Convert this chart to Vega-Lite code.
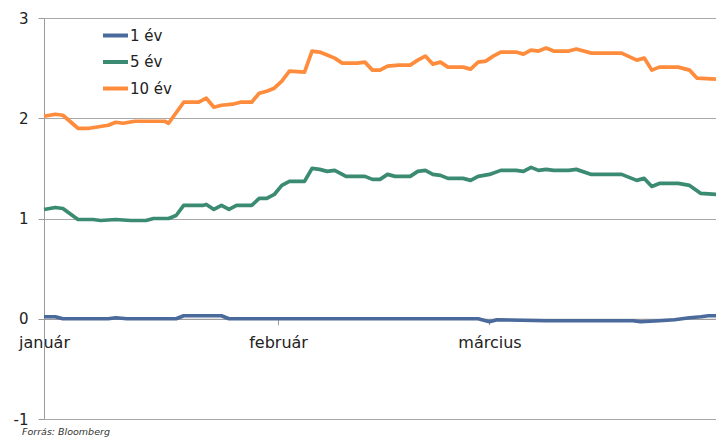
{
  "$schema": "https://vega.github.io/schema/vega-lite/v6.json",
  "width": 672,
  "height": 401,
  "autosize": {"type": "none"},
  "padding": {"left": 44, "top": 18, "right": 0, "bottom": 18},
  "background": "white",
  "config": {"view": {"stroke": null}, "font": "DejaVu Sans"},
  "title": {"text": "Forrás: Bloomberg", "orient": "bottom", "anchor": "start", "frame": "group", "fontSize": 9.5, "fontStyle": "italic", "fontWeight": "normal", "color": "#333333", "dx": -22, "offset": 0},
  "datasets": {
    "hozam": [
      {"date": "2021-01-01T00:00", "series": "10 év", "value": 2.02},
      {"date": "2021-01-02T12:00", "series": "10 év", "value": 2.04},
      {"date": "2021-01-03T12:00", "series": "10 év", "value": 2.03},
      {"date": "2021-01-05T12:00", "series": "10 év", "value": 1.90},
      {"date": "2021-01-07T00:00", "series": "10 év", "value": 1.90},
      {"date": "2021-01-09T12:00", "series": "10 év", "value": 1.93},
      {"date": "2021-01-10T12:00", "series": "10 év", "value": 1.96},
      {"date": "2021-01-11T12:00", "series": "10 év", "value": 1.95},
      {"date": "2021-01-13T00:00", "series": "10 év", "value": 1.97},
      {"date": "2021-01-16T00:00", "series": "10 év", "value": 1.97},
      {"date": "2021-01-17T00:00", "series": "10 év", "value": 1.97},
      {"date": "2021-01-17T12:00", "series": "10 év", "value": 1.95},
      {"date": "2021-01-19T12:00", "series": "10 év", "value": 2.16},
      {"date": "2021-01-21T12:00", "series": "10 év", "value": 2.16},
      {"date": "2021-01-22T12:00", "series": "10 év", "value": 2.20},
      {"date": "2021-01-23T12:00", "series": "10 év", "value": 2.11},
      {"date": "2021-01-24T12:00", "series": "10 év", "value": 2.13},
      {"date": "2021-01-26T00:00", "series": "10 év", "value": 2.14},
      {"date": "2021-01-27T00:00", "series": "10 év", "value": 2.16},
      {"date": "2021-01-28T12:00", "series": "10 év", "value": 2.16},
      {"date": "2021-01-29T12:00", "series": "10 év", "value": 2.25},
      {"date": "2021-01-30T12:00", "series": "10 év", "value": 2.27},
      {"date": "2021-01-31T12:00", "series": "10 év", "value": 2.30},
      {"date": "2021-02-01T12:00", "series": "10 év", "value": 2.37},
      {"date": "2021-02-02T12:00", "series": "10 év", "value": 2.47},
      {"date": "2021-02-04T12:00", "series": "10 év", "value": 2.46},
      {"date": "2021-02-05T12:00", "series": "10 év", "value": 2.67},
      {"date": "2021-02-06T12:00", "series": "10 év", "value": 2.66},
      {"date": "2021-02-07T12:00", "series": "10 év", "value": 2.63},
      {"date": "2021-02-08T12:00", "series": "10 év", "value": 2.60},
      {"date": "2021-02-09T12:00", "series": "10 év", "value": 2.55},
      {"date": "2021-02-11T12:00", "series": "10 év", "value": 2.55},
      {"date": "2021-02-12T12:00", "series": "10 év", "value": 2.56},
      {"date": "2021-02-13T12:00", "series": "10 év", "value": 2.48},
      {"date": "2021-02-14T12:00", "series": "10 év", "value": 2.48},
      {"date": "2021-02-15T12:00", "series": "10 év", "value": 2.52},
      {"date": "2021-02-17T00:00", "series": "10 év", "value": 2.53},
      {"date": "2021-02-18T12:00", "series": "10 év", "value": 2.53},
      {"date": "2021-02-19T12:00", "series": "10 év", "value": 2.58},
      {"date": "2021-02-20T12:00", "series": "10 év", "value": 2.62},
      {"date": "2021-02-21T12:00", "series": "10 év", "value": 2.54},
      {"date": "2021-02-22T12:00", "series": "10 év", "value": 2.56},
      {"date": "2021-02-23T12:00", "series": "10 év", "value": 2.51},
      {"date": "2021-02-25T12:00", "series": "10 év", "value": 2.51},
      {"date": "2021-02-26T12:00", "series": "10 év", "value": 2.49},
      {"date": "2021-02-27T12:00", "series": "10 év", "value": 2.56},
      {"date": "2021-02-28T12:00", "series": "10 év", "value": 2.57},
      {"date": "2021-03-01T12:00", "series": "10 év", "value": 2.62},
      {"date": "2021-03-02T12:00", "series": "10 év", "value": 2.66},
      {"date": "2021-03-04T12:00", "series": "10 év", "value": 2.66},
      {"date": "2021-03-05T12:00", "series": "10 év", "value": 2.64},
      {"date": "2021-03-06T12:00", "series": "10 év", "value": 2.68},
      {"date": "2021-03-07T12:00", "series": "10 év", "value": 2.67},
      {"date": "2021-03-08T12:00", "series": "10 év", "value": 2.70},
      {"date": "2021-03-09T12:00", "series": "10 év", "value": 2.67},
      {"date": "2021-03-11T12:00", "series": "10 év", "value": 2.67},
      {"date": "2021-03-12T12:00", "series": "10 év", "value": 2.69},
      {"date": "2021-03-14T12:00", "series": "10 év", "value": 2.65},
      {"date": "2021-03-18T12:00", "series": "10 év", "value": 2.65},
      {"date": "2021-03-20T12:00", "series": "10 év", "value": 2.58},
      {"date": "2021-03-21T12:00", "series": "10 év", "value": 2.60},
      {"date": "2021-03-22T12:00", "series": "10 év", "value": 2.48},
      {"date": "2021-03-23T12:00", "series": "10 év", "value": 2.51},
      {"date": "2021-03-26T00:00", "series": "10 év", "value": 2.51},
      {"date": "2021-03-27T12:00", "series": "10 év", "value": 2.48},
      {"date": "2021-03-28T12:00", "series": "10 év", "value": 2.40},
      {"date": "2021-03-31T00:00", "series": "10 év", "value": 2.39},

      {"date": "2021-01-01T00:00", "series": "5 év", "value": 1.09},
      {"date": "2021-01-02T12:00", "series": "5 év", "value": 1.11},
      {"date": "2021-01-03T12:00", "series": "5 év", "value": 1.10},
      {"date": "2021-01-05T12:00", "series": "5 év", "value": 0.99},
      {"date": "2021-01-07T12:00", "series": "5 év", "value": 0.99},
      {"date": "2021-01-08T12:00", "series": "5 év", "value": 0.98},
      {"date": "2021-01-10T12:00", "series": "5 év", "value": 0.99},
      {"date": "2021-01-12T12:00", "series": "5 év", "value": 0.98},
      {"date": "2021-01-14T12:00", "series": "5 év", "value": 0.98},
      {"date": "2021-01-15T12:00", "series": "5 év", "value": 1.00},
      {"date": "2021-01-17T12:00", "series": "5 év", "value": 1.00},
      {"date": "2021-01-18T12:00", "series": "5 év", "value": 1.03},
      {"date": "2021-01-19T12:00", "series": "5 év", "value": 1.13},
      {"date": "2021-01-22T00:00", "series": "5 év", "value": 1.13},
      {"date": "2021-01-22T12:00", "series": "5 év", "value": 1.14},
      {"date": "2021-01-23T12:00", "series": "5 év", "value": 1.09},
      {"date": "2021-01-24T12:00", "series": "5 év", "value": 1.13},
      {"date": "2021-01-25T12:00", "series": "5 év", "value": 1.09},
      {"date": "2021-01-26T12:00", "series": "5 év", "value": 1.13},
      {"date": "2021-01-28T12:00", "series": "5 év", "value": 1.13},
      {"date": "2021-01-29T12:00", "series": "5 év", "value": 1.20},
      {"date": "2021-01-30T12:00", "series": "5 év", "value": 1.20},
      {"date": "2021-01-31T12:00", "series": "5 év", "value": 1.24},
      {"date": "2021-02-01T12:00", "series": "5 év", "value": 1.33},
      {"date": "2021-02-02T12:00", "series": "5 év", "value": 1.37},
      {"date": "2021-02-04T12:00", "series": "5 év", "value": 1.37},
      {"date": "2021-02-05T12:00", "series": "5 év", "value": 1.50},
      {"date": "2021-02-06T12:00", "series": "5 év", "value": 1.49},
      {"date": "2021-02-07T12:00", "series": "5 év", "value": 1.47},
      {"date": "2021-02-08T12:00", "series": "5 év", "value": 1.48},
      {"date": "2021-02-10T00:00", "series": "5 év", "value": 1.42},
      {"date": "2021-02-12T12:00", "series": "5 év", "value": 1.42},
      {"date": "2021-02-13T12:00", "series": "5 év", "value": 1.39},
      {"date": "2021-02-14T12:00", "series": "5 év", "value": 1.39},
      {"date": "2021-02-15T12:00", "series": "5 év", "value": 1.44},
      {"date": "2021-02-16T12:00", "series": "5 év", "value": 1.42},
      {"date": "2021-02-18T12:00", "series": "5 év", "value": 1.42},
      {"date": "2021-02-19T12:00", "series": "5 év", "value": 1.47},
      {"date": "2021-02-20T12:00", "series": "5 év", "value": 1.48},
      {"date": "2021-02-21T12:00", "series": "5 év", "value": 1.44},
      {"date": "2021-02-22T12:00", "series": "5 év", "value": 1.43},
      {"date": "2021-02-23T12:00", "series": "5 év", "value": 1.40},
      {"date": "2021-02-25T12:00", "series": "5 év", "value": 1.40},
      {"date": "2021-02-26T12:00", "series": "5 év", "value": 1.38},
      {"date": "2021-02-27T12:00", "series": "5 év", "value": 1.42},
      {"date": "2021-03-01T00:00", "series": "5 év", "value": 1.44},
      {"date": "2021-03-02T12:00", "series": "5 év", "value": 1.48},
      {"date": "2021-03-04T12:00", "series": "5 év", "value": 1.48},
      {"date": "2021-03-05T12:00", "series": "5 év", "value": 1.47},
      {"date": "2021-03-06T12:00", "series": "5 év", "value": 1.51},
      {"date": "2021-03-07T12:00", "series": "5 év", "value": 1.48},
      {"date": "2021-03-08T12:00", "series": "5 év", "value": 1.49},
      {"date": "2021-03-09T12:00", "series": "5 év", "value": 1.48},
      {"date": "2021-03-11T12:00", "series": "5 év", "value": 1.48},
      {"date": "2021-03-12T12:00", "series": "5 év", "value": 1.49},
      {"date": "2021-03-14T12:00", "series": "5 év", "value": 1.44},
      {"date": "2021-03-18T12:00", "series": "5 év", "value": 1.44},
      {"date": "2021-03-20T12:00", "series": "5 év", "value": 1.38},
      {"date": "2021-03-21T12:00", "series": "5 év", "value": 1.40},
      {"date": "2021-03-22T12:00", "series": "5 év", "value": 1.32},
      {"date": "2021-03-23T12:00", "series": "5 év", "value": 1.35},
      {"date": "2021-03-26T00:00", "series": "5 év", "value": 1.35},
      {"date": "2021-03-27T12:00", "series": "5 év", "value": 1.33},
      {"date": "2021-03-29T00:00", "series": "5 év", "value": 1.25},
      {"date": "2021-03-31T00:00", "series": "5 év", "value": 1.24},

      {"date": "2021-01-01T00:00", "series": "1 év", "value": 0.02},
      {"date": "2021-01-02T12:00", "series": "1 év", "value": 0.02},
      {"date": "2021-01-03T12:00", "series": "1 év", "value": 0.00},
      {"date": "2021-01-09T12:00", "series": "1 év", "value": 0.00},
      {"date": "2021-01-10T12:00", "series": "1 év", "value": 0.01},
      {"date": "2021-01-12T00:00", "series": "1 év", "value": 0.00},
      {"date": "2021-01-18T12:00", "series": "1 év", "value": 0.00},
      {"date": "2021-01-19T12:00", "series": "1 év", "value": 0.03},
      {"date": "2021-01-24T12:00", "series": "1 év", "value": 0.03},
      {"date": "2021-01-25T12:00", "series": "1 év", "value": 0.00},
      {"date": "2021-02-27T12:00", "series": "1 év", "value": 0.00},
      {"date": "2021-03-01T00:00", "series": "1 év", "value": -0.03},
      {"date": "2021-03-02T00:00", "series": "1 év", "value": -0.01},
      {"date": "2021-03-08T12:00", "series": "1 év", "value": -0.02},
      {"date": "2021-03-20T00:00", "series": "1 év", "value": -0.02},
      {"date": "2021-03-21T00:00", "series": "1 év", "value": -0.03},
      {"date": "2021-03-23T12:00", "series": "1 év", "value": -0.02},
      {"date": "2021-03-25T12:00", "series": "1 év", "value": -0.01},
      {"date": "2021-03-27T12:00", "series": "1 év", "value": 0.01},
      {"date": "2021-03-29T00:00", "series": "1 év", "value": 0.02},
      {"date": "2021-03-30T00:00", "series": "1 év", "value": 0.03},
      {"date": "2021-03-31T00:00", "series": "1 év", "value": 0.03}
    ]
  },
  "data": {"name": "hozam"},
  "mark": {"type": "line", "strokeWidth": 3.7, "strokeJoin": "round", "clip": false},
  "encoding": {
    "x": {
      "field": "date",
      "type": "temporal",
      "scale": {"domain": [{"year": 2021, "month": 1, "date": 1}, {"year": 2021, "month": 3, "date": 31}]},
      "axis": {
        "title": null,
        "values": [{"year": 2021, "month": 1, "date": 1}, {"year": 2021, "month": 2, "date": 1}, {"year": 2021, "month": 3, "date": 1}],
        "labelExpr": "['január','február','március','április'][month(datum.value)]",
        "offset": -100.25,
        "grid": false,
        "domainColor": "#9a9a9a",
        "tickColor": "#9a9a9a",
        "tickSize": 6,
        "labelFontSize": 16,
        "labelColor": "#222222",
        "labelPadding": 10,
        "labelFlush": false
      }
    },
    "y": {
      "field": "value",
      "type": "quantitative",
      "scale": {"domain": [-1, 3], "nice": false, "zero": false},
      "axis": {
        "title": null,
        "values": [-1, 0, 1, 2, 3],
        "labelExpr": "'' + datum.value",
        "gridColor": "#a8a8a8",
        "gridWidth": 1,
        "domainColor": "#9a9a9a",
        "tickColor": "#9a9a9a",
        "tickSize": 6,
        "labelFontSize": 15,
        "labelColor": "#222222",
        "labelPadding": 10
      }
    },
    "color": {
      "field": "series",
      "type": "nominal",
      "scale": {"domain": ["1 év", "5 év", "10 év"], "range": ["#4a6a9b", "#3b8a72", "#ff8c3c"]},
      "legend": {
        "title": null,
        "orient": "none",
        "legendX": 57,
        "legendY": 3,
        "padding": 0,
        "symbolType": "stroke",
        "symbolSize": 625,
        "symbolStrokeWidth": 4,
        "labelFontSize": 15,
        "labelColor": "#222222",
        "labelOffset": 0,
        "rowPadding": 3.5
      }
    }
  }
}
